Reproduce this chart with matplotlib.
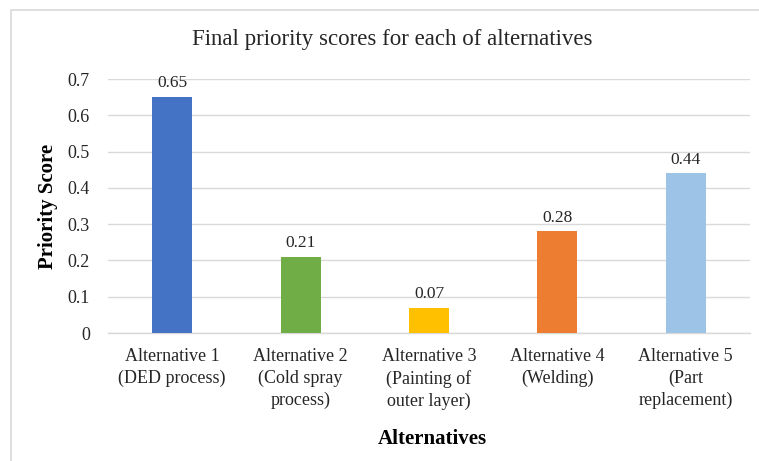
import matplotlib.pyplot as plt
from matplotlib.patches import Rectangle

categories = [
    "Alternative 1\n(DED process)",
    "Alternative 2\n(Cold spray\nprocess)",
    "Alternative 3\n(Painting of\nouter layer)",
    "Alternative 4\n(Welding)",
    "Alternative 5\n(Part\nreplacement)",
]
scores = [0.65, 0.21, 0.07, 0.28, 0.44]
bar_colors = ["#4472C4", "#70AD47", "#FFC000", "#ED7D31", "#9DC3E6"]
y_ticks = [0, 0.1, 0.2, 0.3, 0.4, 0.5, 0.6, 0.7]
y_tick_labels = ["0", "0.1", "0.2", "0.3", "0.4", "0.5", "0.6", "0.7"]

plt.rcParams['font.family'] = ['Liberation Serif', 'DejaVu Serif']

W, H = 759, 461
fig = plt.figure(figsize=(W / 100, H / 100), dpi=100)
ax = fig.add_axes([108 / W, (H - 333) / H, (750 - 108) / W, (333 - 79) / H])

x = range(len(categories))
bars = ax.bar(x, scores, width=0.31, color=bar_colors, zorder=3)
for b, v in zip(bars, scores):
    ax.text(b.get_x() + b.get_width() / 2, v + 0.016, f"{v:.2f}",
            ha='center', va='bottom', fontsize=12.5, color='#262626', zorder=4)

ax.set_xlim(-0.5, len(categories) - 0.5)
ax.set_ylim(0, 0.7)
ax.set_yticks(y_ticks)
ax.set_yticklabels(y_tick_labels)
ax.set_xticks(list(x))
ax.set_xticklabels(categories, linespacing=1.35)
ax.tick_params(axis='both', length=0, labelsize=13, colors='#262626')
ax.tick_params(axis='y', pad=13)
ax.tick_params(axis='x', pad=11)
ax.yaxis.grid(True, color='#D9D9D9', linewidth=1, zorder=0)
for s in ['top', 'right', 'left']:
    ax.spines[s].set_visible(False)
ax.spines['bottom'].set_color('#D9D9D9')
ax.spines['bottom'].set_linewidth(1)

fig.text(392 / W, 1 - 40 / H, "Final priority scores for each of alternatives",
         ha='center', va='center', fontsize=16.5, color='#262626')
fig.text(48 / W, 1 - 206 / H, "Priority Score", rotation=90, ha='center', va='center',
         fontsize=15, fontweight='bold', color='black')
fig.text(432 / W, 1 - 439 / H, "Alternatives", ha='center', va='center',
         fontsize=15, fontweight='bold', color='black')

fig.patches.append(Rectangle((11 / W, -0.1), 1.2, 1 - 10 / H + 0.1, transform=fig.transFigure,
                             fill=False, edgecolor='#D9D9D9', linewidth=1.2))

fig.savefig("out.png", dpi=100)
